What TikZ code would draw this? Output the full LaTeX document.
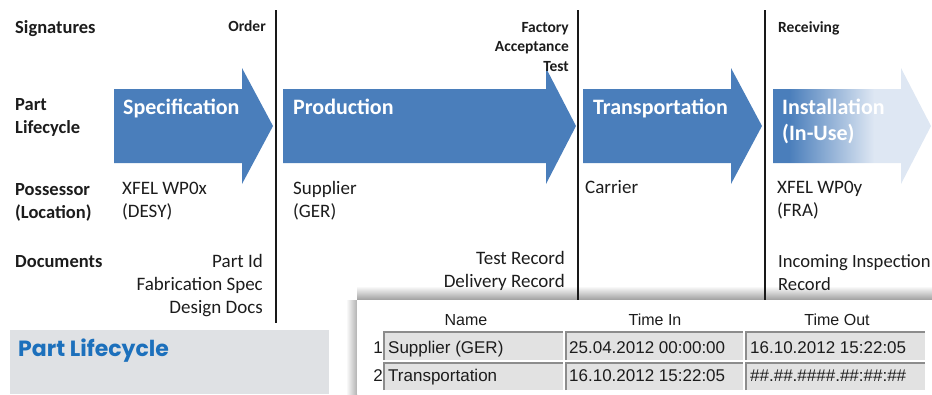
\documentclass[tikz,border=0pt]{standalone}
\usepackage{fontspec}
\setmainfont{Carlito}
\newfontfamily\tablefont{Liberation Sans}
\newfontfamily\titlefont{Poppins}

\definecolor{arrowblue}{RGB}{74,126,187}
\definecolor{fadeblue}{RGB}{222,231,243}
\definecolor{boxgray}{RGB}{223,225,228}
\definecolor{titleblue}{RGB}{28,112,188}
\definecolor{cellgray}{RGB}{226,226,226}
\definecolor{textdark}{RGB}{28,28,28}

\pgfdeclarehorizontalshading{installfade}{100bp}{color(0bp)=(arrowblue); color(30bp)=(arrowblue); color(57bp)=(fadeblue); color(100bp)=(fadeblue)}

\tikzset{
  phasearrow/.style={fill=arrowblue, draw=none},
  divider/.style={line width=2.4pt, draw=black!90},
  heading/.style={anchor=base west, inner sep=0pt, align=left, text=textdark, font=\bfseries\fontsize{18.5}{23}\selectfont},
  signlabel/.style={anchor=base east, inner sep=0pt, align=right, text=textdark, font=\bfseries\fontsize{15.5}{19.5}\selectfont},
  phaselabel/.style={anchor=base west, inner sep=0pt, align=left, text=white, font=\bfseries\fontsize{22}{26}\selectfont},
  infotext/.style={anchor=base west, inner sep=0pt, align=left, text=textdark, font=\fontsize{19}{23}\selectfont},
  doctext/.style={anchor=base east, inner sep=0pt, align=right, text=textdark, font=\fontsize{19}{23}\selectfont},
  colhead/.style={anchor=base, inner sep=0pt, text=textdark, font=\tablefont\fontsize{16}{16}\selectfont},
  cell/.style={fill=cellgray, draw=none},
  celledge/.style={draw=black!45, line width=1.6pt},
  celltext/.style={anchor=base west, inner sep=0pt, text=textdark, font=\tablefont\fontsize{17}{17}\selectfont},
}

\begin{document}
\begin{tikzpicture}[x=1pt, y=-1pt]
\useasboundingbox (0,0) rectangle (932,394);

% phase arrows
\foreach \tail/\neck/\tip in {114/242/273, 283/546/576, 583/731/762}
  \fill[phasearrow] (\tail,89) -- (\neck,89) -- (\neck,68) -- (\tip,126)
    -- (\neck,184) -- (\neck,163) -- (\tail,163) -- cycle;
\shade[shading=installfade] (773,89) -- (901,89) -- (901,68) -- (931,126)
  -- (901,184) -- (901,163) -- (773,163) -- cycle;

% shadow of the table panel
\shade[top color=white, bottom color=black!38] (357,286) rectangle (932,300);
\shade[left color=white, right color=black!30] (346,300) rectangle (357,394);

% dividers
\coordinate (d1top) at (276,10); \coordinate (d1bot) at (276,323);
\coordinate (d2top) at (578,10); \coordinate (d2bot) at (578,300);
\coordinate (d3top) at (765,10); \coordinate (d3bot) at (765,300);
\draw[divider] (d1top) -- (d1bot);
\draw[divider] (d2top) -- (d2bot);
\draw[divider] (d3top) -- (d3bot);

% row headings (multi-line nodes sit on their last line)
\node[heading] (signatures) at (15,33) {Signatures};
\node[heading] (lifecycle) at (15,133) {Part\\Lifecycle};
\node[heading] (possessor) at (15,218) {Possessor\\(Location)};
\node[heading] (documents) at (15,267) {Documents};

% signatures
\node[signlabel] (order) at (266,31) {Order};
\node[signlabel] (fat) at (569,71) {Factory\\Acceptance\\Test};
\node[signlabel, anchor=base west] (receiving) at (778,32) {Receiving};

% phase names
\node[phaselabel] (spec) at (123,114) {Specification};
\node[phaselabel] (prod) at (293,114) {Production};
\node[phaselabel] (trans) at (593,114) {Transportation};
\node[phaselabel] (install) at (782,140) {Installation\\(In-Use)};

% possessors
\node[infotext] (wpx) at (122,217) {XFEL WP0x\\(DESY)};
\node[infotext] (supplier) at (293,217) {Supplier\\(GER)};
\node[infotext] (carrier) at (585,193) {Carrier};
\node[infotext] (wpy) at (777,216) {XFEL WP0y\\(FRA)};

% documents
\node[doctext] (specdocs) at (263,313) {Part Id\\Fabrication Spec\\Design Docs};
\node[doctext] (proddocs) at (565,287) {Test Record\\Delivery Record};
\node[infotext, font=\fontsize{18.6}{23}\selectfont] (installdocs) at (778,290) {Incoming Inspection\\Record};

% title box
\fill[boxgray] (10,330) rectangle (329,394);
\node[anchor=base west, inner sep=0pt, text=titleblue, font=\titlefont\bfseries\fontsize{22}{22}\selectfont] (title) at (18,356) {Part Lifecycle};

% table panel
\fill[white] (357,300) rectangle (932,394);
\node[colhead] (hname) at (466,325) {Name};
\node[colhead] (hin) at (655,325) {Time In};
\node[colhead] (hout) at (837,325) {Time Out};
\foreach \x/\w in {384/563, 566/743, 746/925}
  \foreach \y/\b in {332/360, 363/390} {
    \fill[cell] (\x,\y) rectangle (\w,\b);
    \draw[celledge] (\x,\b) -- (\x,\y) -- (\w,\y);
  }
\node[celltext, anchor=base east] (one) at (383,353) {1};
\node[celltext, anchor=base east] (two) at (383,381) {2};
\node[celltext] (r1name) at (388,353) {Supplier (GER)};
\node[celltext] (r1in) at (569,353) {25.04.2012 00:00:00};
\node[celltext] (r1out) at (750,353) {16.10.2012 15:22:05};
\node[celltext] (r2name) at (388,381) {Transportation};
\node[celltext] (r2in) at (569,381) {16.10.2012 15:22:05};
\node[celltext] (r2out) at (750,381) {\#\#.\#\#.\#\#\#\#.\#\#:\#\#:\#\#};
\end{tikzpicture}
\end{document}
